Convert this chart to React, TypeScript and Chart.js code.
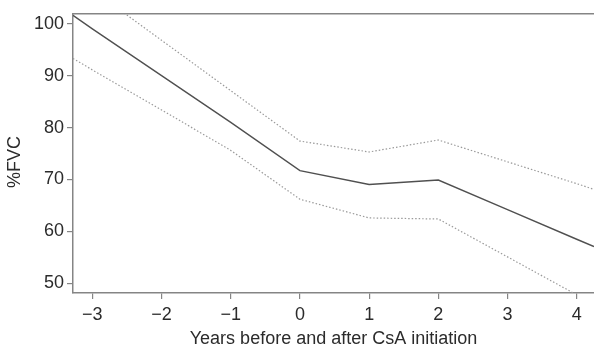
import React, { useEffect, useRef } from "react";
import { Chart, registerables } from "chart.js";

Chart.register(...registerables);

const years = [-3.28, -3, -2, -1, 0, 1, 2, 3, 4, 4.25];
const fvcMean = [101.6, 99.0, 90.0, 81.0, 71.7, 69.05, 69.9, 64.2, 58.5, 57.1];
const fvcUpper = [109.2, 106.5, 96.8, 87.1, 77.4, 75.3, 77.6, 73.4, 69.2, 68.1];
const fvcLower = [93.3, 91.1, 83.4, 75.6, 66.2, 62.6, 62.4, 55.1, 47.8, 46.0];
const xTicks = [-3, -2, -1, 0, 1, 2, 3, 4];
const yTicks = [50, 60, 70, 80, 90, 100];

const AXIS = "#858585";
const TEXT = "#2b2b2b";
const FONT = "'Liberation Sans', Arial, Helvetica, sans-serif";
const FS = 18;

export default function App() {
  const ref = useRef<HTMLCanvasElement | null>(null);

  useEffect(() => {
    document.body.style.margin = "0";
    const canvas = ref.current;
    if (!canvas) return;

    const frame = {
      id: "frame",
      afterDraw(chart: any) {
        const { ctx, chartArea } = chart;
        ctx.save();
        ctx.strokeStyle = AXIS;
        ctx.lineWidth = 1.5;
        ctx.beginPath();
        ctx.moveTo(chartArea.left, chartArea.top);
        ctx.lineTo(chartArea.right, chartArea.top);
        ctx.stroke();
        // y title
        ctx.fillStyle = TEXT;
        ctx.font = `${FS}px ${FONT}`;
        ctx.translate(15, 162);
        ctx.rotate(-Math.PI / 2);
        ctx.textAlign = "center";
        ctx.textBaseline = "middle";
        ctx.fillText("%FVC", 0, 0);
        ctx.restore();
      },
    };

    const toPts = (ys: number[]) => years.map((x, i) => ({ x, y: ys[i] }));

    const chart = new Chart(canvas, {
      type: "line",
      data: {
        datasets: [
          {
            label: "Upper",
            data: toPts(fvcUpper),
            borderColor: "#9a9a9a",
            borderWidth: 1.2,
            borderDash: [1.5, 2],
            pointRadius: 0,
            tension: 0,
          },
          {
            label: "Mean",
            data: toPts(fvcMean),
            borderColor: "#505050",
            borderWidth: 1.4,
            pointRadius: 0,
            tension: 0,
          },
          {
            label: "Lower",
            data: toPts(fvcLower),
            borderColor: "#9a9a9a",
            borderWidth: 1.2,
            borderDash: [1.5, 2],
            pointRadius: 0,
            tension: 0,
          },
        ],
      },
      options: {
        responsive: false,
        animation: false,
        layout: { padding: { top: 11, right: 0, left: 0, bottom: 0 } },
        plugins: { legend: { display: false }, tooltip: { enabled: false } },
        scales: {
          x: {
            type: "linear",
            min: -3.28,
            max: 4.25,
            afterBuildTicks: (s: any) => {
              s.ticks = xTicks.map((v) => ({ value: v }));
            },
            afterFit: (s: any) => {
              s.height = 57;
            },
            grid: {
              drawOnChartArea: false,
              drawTicks: true,
              tickLength: 6,
              color: AXIS,
              lineWidth: 1.2,
            },
            border: { display: true, color: AXIS, width: 1.5 },
            ticks: {
              color: TEXT,
              font: { family: FONT, size: FS },
              padding: 5,
              maxRotation: 0,
              callback: (v: any) => String(v).replace("-", "\u2212"),
            },
            title: {
              display: true,
              text: "Years before and after CsA initiation",
              color: TEXT,
              font: { family: FONT, size: FS },
              padding: { top: 0, bottom: 0 },
            },
          },
          y: {
            type: "linear",
            min: 48.15,
            max: 101.9,
            afterBuildTicks: (s: any) => {
              s.ticks = yTicks.map((v) => ({ value: v }));
            },
            afterFit: (s: any) => {
              s.width = 73;
            },
            grid: {
              drawOnChartArea: false,
              drawTicks: true,
              tickLength: 6,
              color: AXIS,
              lineWidth: 1.2,
            },
            border: { display: true, color: AXIS, width: 1.5 },
            ticks: {
              color: TEXT,
              font: { family: FONT, size: FS },
              padding: 3,
            },
          },
        },
      },
      plugins: [frame],
    } as any);

    return () => chart.destroy();
  }, []);

  return <canvas ref={ref} width={594} height={350} style={{ display: "block" }} />;
}
